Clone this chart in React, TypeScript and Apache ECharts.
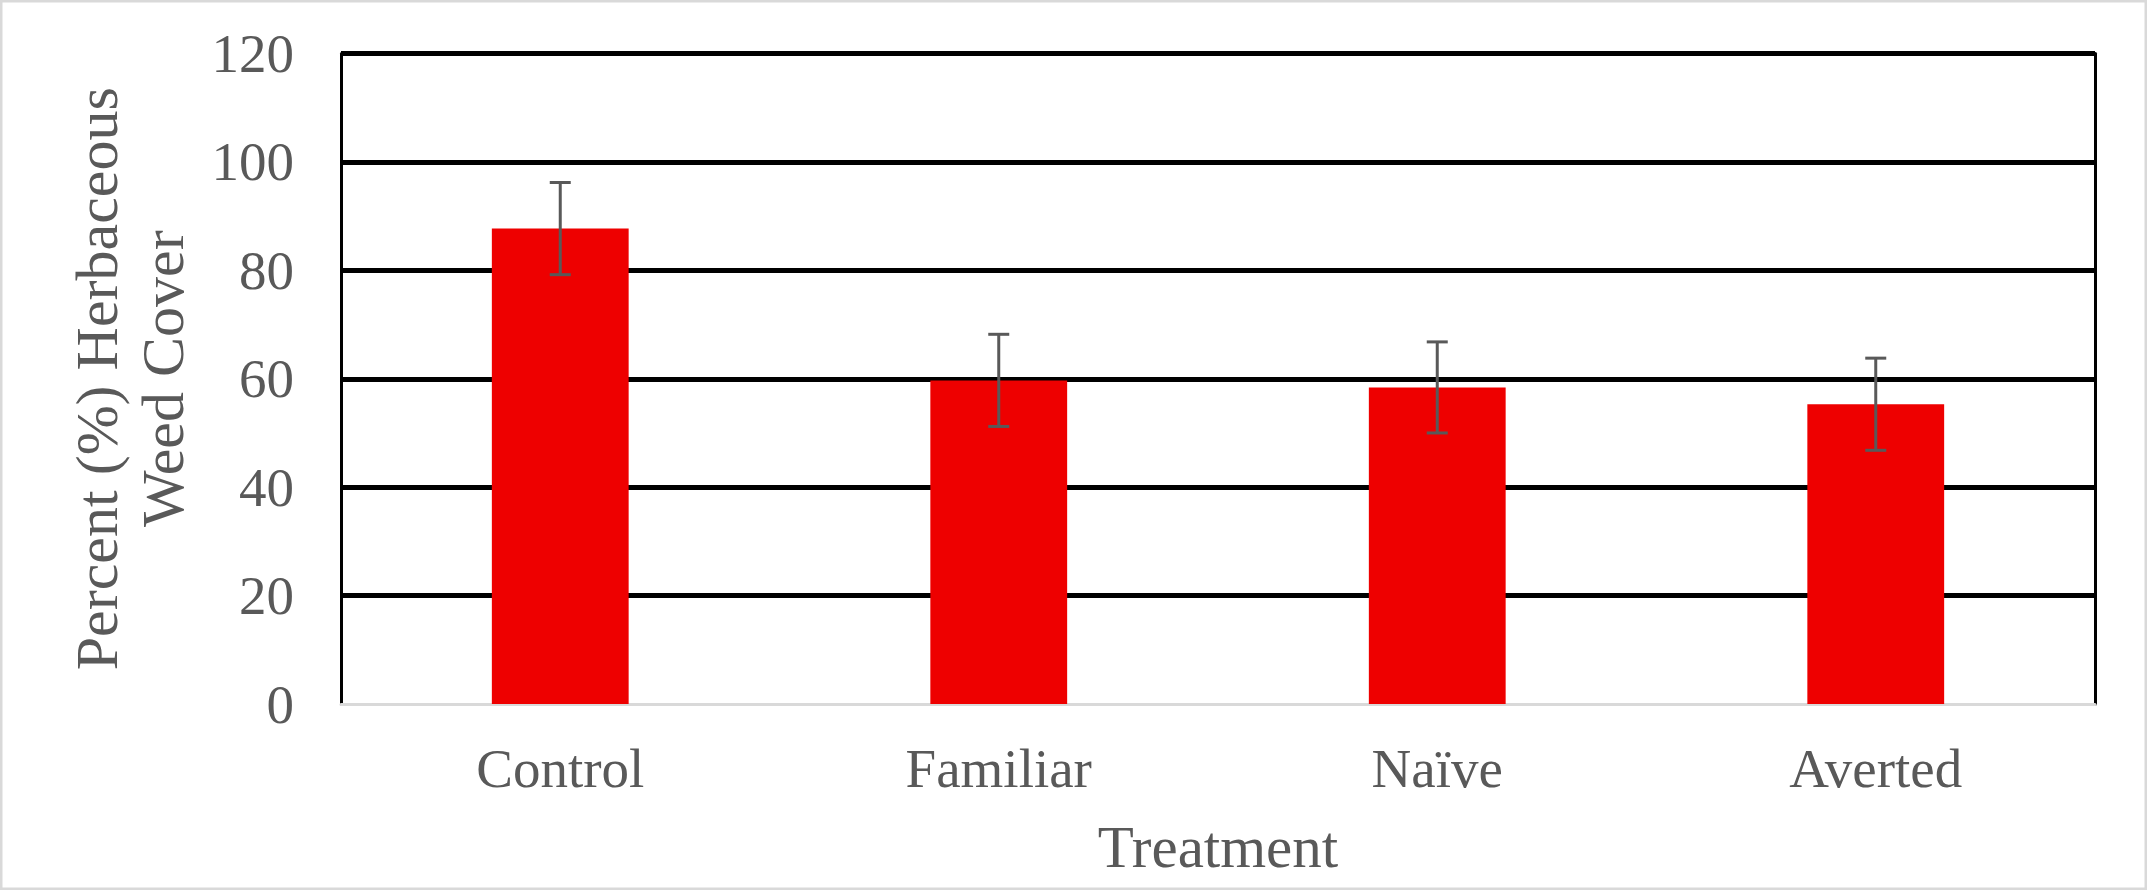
import React, { useEffect, useRef } from "react";
import * as echarts from "echarts";

const categories = ["Control", "Familiar", "Naïve", "Averted"];
const means = [87.7, 59.7, 58.4, 55.3];
const errors = [8.5, 8.5, 8.4, 8.5];
const yMin = 0;
const yMax = 120;
const yInterval = 20;

const FONT = "'Liberation Serif', 'Times New Roman', serif";
const TEXT = "#595959";

export default function App() {
  const ref = useRef<HTMLDivElement>(null);
  useEffect(() => {
    if (!ref.current) return;
    const chart = echarts.init(ref.current, null, { renderer: "svg" });
    const errData = categories.map((_, i) => [i, means[i] - errors[i], means[i] + errors[i]]);
    chart.setOption({
      animation: false,
      backgroundColor: "#ffffff",
      textStyle: { fontFamily: FONT },
      graphic: [
        {
          type: "rect",
          shape: { x: 1.25, y: 1.25, width: 2144.5, height: 887.5 },
          style: { fill: "none", stroke: "#d9d9d9", lineWidth: 2.5 },
          silent: true,
        },
      ],
      grid: { left: 341, right: 52, top: 53.5, bottom: 186 },
      xAxis: {
        type: "category",
        data: categories,
        axisLine: { show: true, lineStyle: { color: "#d9d9d9", width: 3 } },
        axisTick: { show: false },
        axisLabel: { color: TEXT, fontSize: 55, fontFamily: FONT, margin: 37 },
        name: "Treatment",
        nameLocation: "middle",
        nameGap: 113,
        nameTextStyle: { color: TEXT, fontSize: 59, fontFamily: FONT },
      },
      yAxis: [
        {
          type: "value",
          min: yMin,
          max: yMax,
          interval: yInterval,
          axisLine: { show: true, lineStyle: { color: "#000000", width: 3 } },
          axisTick: { show: false },
          axisLabel: { color: TEXT, fontSize: 55, fontFamily: FONT, margin: 47 },
          splitLine: { show: true, showMinLine: false, lineStyle: { color: "#000000", width: 5 } },
          name: "Percent (%) Herbaceous\nWeed Cover",
          nameLocation: "middle",
          nameGap: 145,
          nameTextStyle: { color: TEXT, fontSize: 60, fontFamily: FONT, lineHeight: 66, align: "center" },
        },
        {
          type: "value",
          position: "right",
          min: yMin,
          max: yMax,
          interval: yInterval,
          axisLine: { show: true, lineStyle: { color: "#000000", width: 3 } },
          axisTick: { show: false },
          axisLabel: { show: false },
          splitLine: { show: false },
        },
      ],
      series: [
        {
          type: "bar",
          data: means,
          barWidth: "31.2%",
          itemStyle: { color: "#ee0000" },
          z: 2,
        },
        {
          type: "custom",
          data: errData,
          encode: { x: 0, y: [1, 2] },
          z: 3,
          renderItem: (params: any, api: any) => {
            const x = api.value(0);
            const lo = api.coord([x, api.value(1)]);
            const hi = api.coord([x, api.value(2)]);
            const half = 10.5;
            const style = { stroke: "#595959", lineWidth: 3 };
            return {
              type: "group",
              children: [
                { type: "line", shape: { x1: hi[0], y1: hi[1], x2: lo[0], y2: lo[1] }, style },
                { type: "line", shape: { x1: hi[0] - half, y1: hi[1], x2: hi[0] + half, y2: hi[1] }, style },
                { type: "line", shape: { x1: lo[0] - half, y1: lo[1], x2: lo[0] + half, y2: lo[1] }, style },
              ],
            };
          },
        },
      ],
    });
    return () => chart.dispose();
  }, []);
  return (
    <div
      ref={ref}
      style={{ position: "fixed", left: 0, top: 0, width: 2147, height: 890 }}
    />
  );
}
